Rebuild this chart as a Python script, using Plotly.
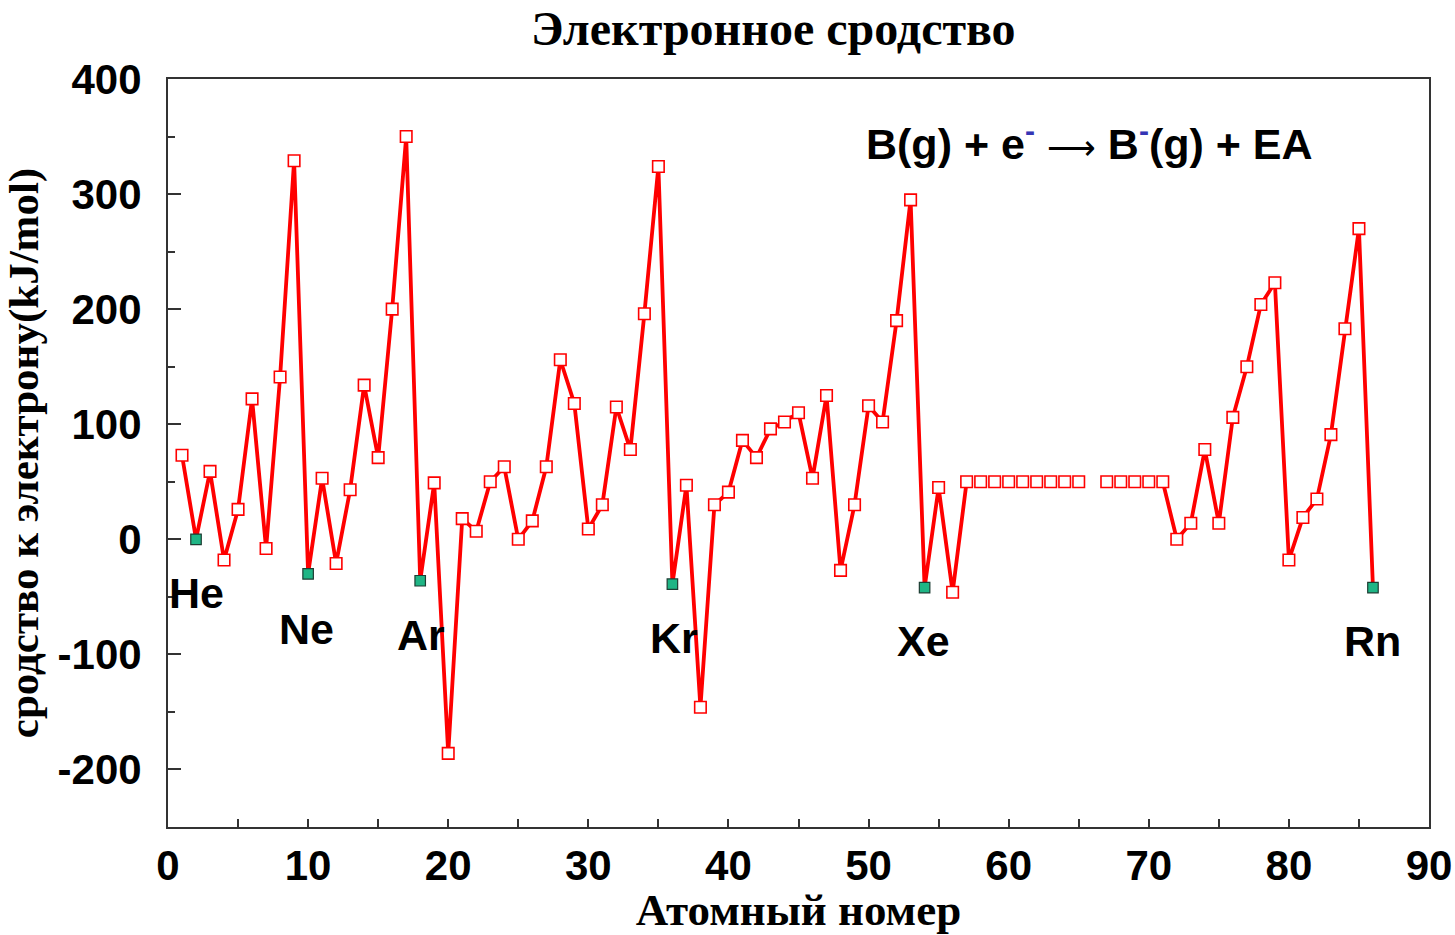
import plotly.graph_objects as go

# ---- data ----
atomic_number = list(range(1, 87))
affinity = [
    73, 0, 59, -18, 26, 122, -8, 141, 329, -30,        # 1-10
    53, -21, 43, 134, 71, 200, 350, -36, 49, -186,     # 11-20
    18, 7, 50, 63, 0, 16, 63, 156, 118, 9,             # 21-30
    30, 115, 78, 196, 324, -39, 47, -146, 30, 41,      # 31-40
    86, 71, 96, 102, 110, 53, 125, -27, 30, 116,       # 41-50
    102, 190, 295, -42, 45, -46, 50, 50, 50, 50,       # 51-60
    50, 50, 50, 50, 50, None, 50, 50, 50, 50,          # 61-70
    50, 0, 14, 78, 14, 106, 150, 204, 223, -18,        # 71-80
    19, 35, 91, 183, 270, -42,                         # 81-86
]
noble_z = [2, 10, 18, 36, 54, 86]
noble_names = ["He", "Ne", "Ar", "Kr", "Xe", "Rn"]
no_line_z = list(range(58, 71))   # lanthanide block drawn as markers only

x_ticks = [0, 10, 20, 30, 40, 50, 60, 70, 80, 90]
y_ticks = [400, 300, 200, 100, 0, -100, -200]
y_ticktext = ["400", "300", "200", "100", "0", "-100", "-200"]

title_text = "Электронное сродство"
x_title = "Атомный номер"
y_title = "сродство к электрону(kJ/mol)"

# ---- derived series ----
line_y = [None if z in no_line_z else v for z, v in zip(atomic_number, affinity)]
red_x = [z for z, v in zip(atomic_number, affinity) if z not in noble_z and v is not None]
red_y = [v for z, v in zip(atomic_number, affinity) if z not in noble_z and v is not None]
green_x = noble_z
green_y = [affinity[z - 1] for z in noble_z]

RED = "#ff0000"
fig = go.Figure()
fig.add_trace(go.Scatter(x=atomic_number, y=line_y, mode="lines",
                         line=dict(color=RED, width=3.8), connectgaps=False,
                         showlegend=False, hoverinfo="skip"))
fig.add_trace(go.Scatter(x=red_x, y=red_y, mode="markers",
                         marker=dict(symbol="square", size=11.5, color="white",
                                     line=dict(color=RED, width=1.6)),
                         showlegend=False))
fig.add_trace(go.Scatter(x=green_x, y=green_y, mode="markers",
                         marker=dict(symbol="square", size=10.5, color="#1fb585",
                                     line=dict(color="#1d3d33", width=1.2)),
                         showlegend=False))

# noble-gas labels (pixel offsets below the markers)
label_shift = [-54, -55, -54, -54, -53, -53]
label_xshift = [0, -2, 1, 2, -1, 0]
for z, name, ys, xs in zip(noble_z, noble_names, label_shift, label_xshift):
    fig.add_annotation(x=z, y=affinity[z - 1], text=name, showarrow=False,
                       yshift=ys, xshift=xs, xanchor="center", yanchor="middle",
                       font=dict(family="Liberation Sans", size=43, color="black",
                                 weight="bold"))

blue = "color:#3535b5"
fig.add_annotation(
    xref="paper", yref="paper", x=0.731, y=0.917, xanchor="center", yanchor="middle",
    showarrow=False,
    text=(f"B(g) + e<sup><span style='{blue}'>-</span></sup> "
          f"<span style='font-weight:normal;font-size:34px'>⟶</span> "
          f"B<sup><span style='{blue}'>-</span></sup>(g) + EA"),
    font=dict(family="Liberation Sans", size=43, color="black", weight="bold"))

fig.update_layout(
    width=1455, height=935,
    margin=dict(l=168, r=26, t=79, b=108),
    paper_bgcolor="white", plot_bgcolor="white",
    title=dict(text=title_text, x=0.48, xref="paper", xanchor="center",
               y=1 - 28 / 935, yref="container", yanchor="middle",
               font=dict(family="Liberation Serif", size=48, color="black", weight="bold")),
    xaxis=dict(range=[0, 90], tickvals=x_ticks, showgrid=False, zeroline=False,
               automargin=False,
               showline=True, linecolor="#333333", linewidth=2, mirror=True,
               ticks="inside", ticklen=8, tickwidth=1.5, tickcolor="#333333",
               minor=dict(dtick=5, ticks="inside", ticklen=8, tickwidth=1.5,
                          tickcolor="#333333", showgrid=False),
               tickfont=dict(family="Liberation Sans", size=42, color="black", weight="bold"),
               ticklabelstandoff=1,
               title=dict(text=x_title, standoff=14,
                          font=dict(family="Liberation Serif", size=45, color="black",
                                    weight="bold"))),
    yaxis=dict(range=[-250, 400], tickvals=y_ticks, ticktext=y_ticktext,
               showgrid=False, zeroline=False, automargin=False,
               showline=True, linecolor="#333333", linewidth=2, mirror=True,
               ticks="inside", ticklen=13, tickwidth=1.5, tickcolor="#333333",
               minor=dict(dtick=50, ticks="inside", ticklen=7, tickwidth=1.5,
                          tickcolor="#333333", showgrid=False),
               tickfont=dict(family="Liberation Sans", size=42, color="black", weight="bold"),
               ticklabelstandoff=16,
               title=dict(text=y_title, standoff=10,
                          font=dict(family="Liberation Serif", size=43, color="black",
                                    weight="bold"))),
)

# remove the default page margin so the 1455x935 figure fills the window exactly
fig.write_html("out.html",
               config={"displayModeBar": False},
               post_script="document.body.style.margin='0';document.body.style.overflow='hidden';")
